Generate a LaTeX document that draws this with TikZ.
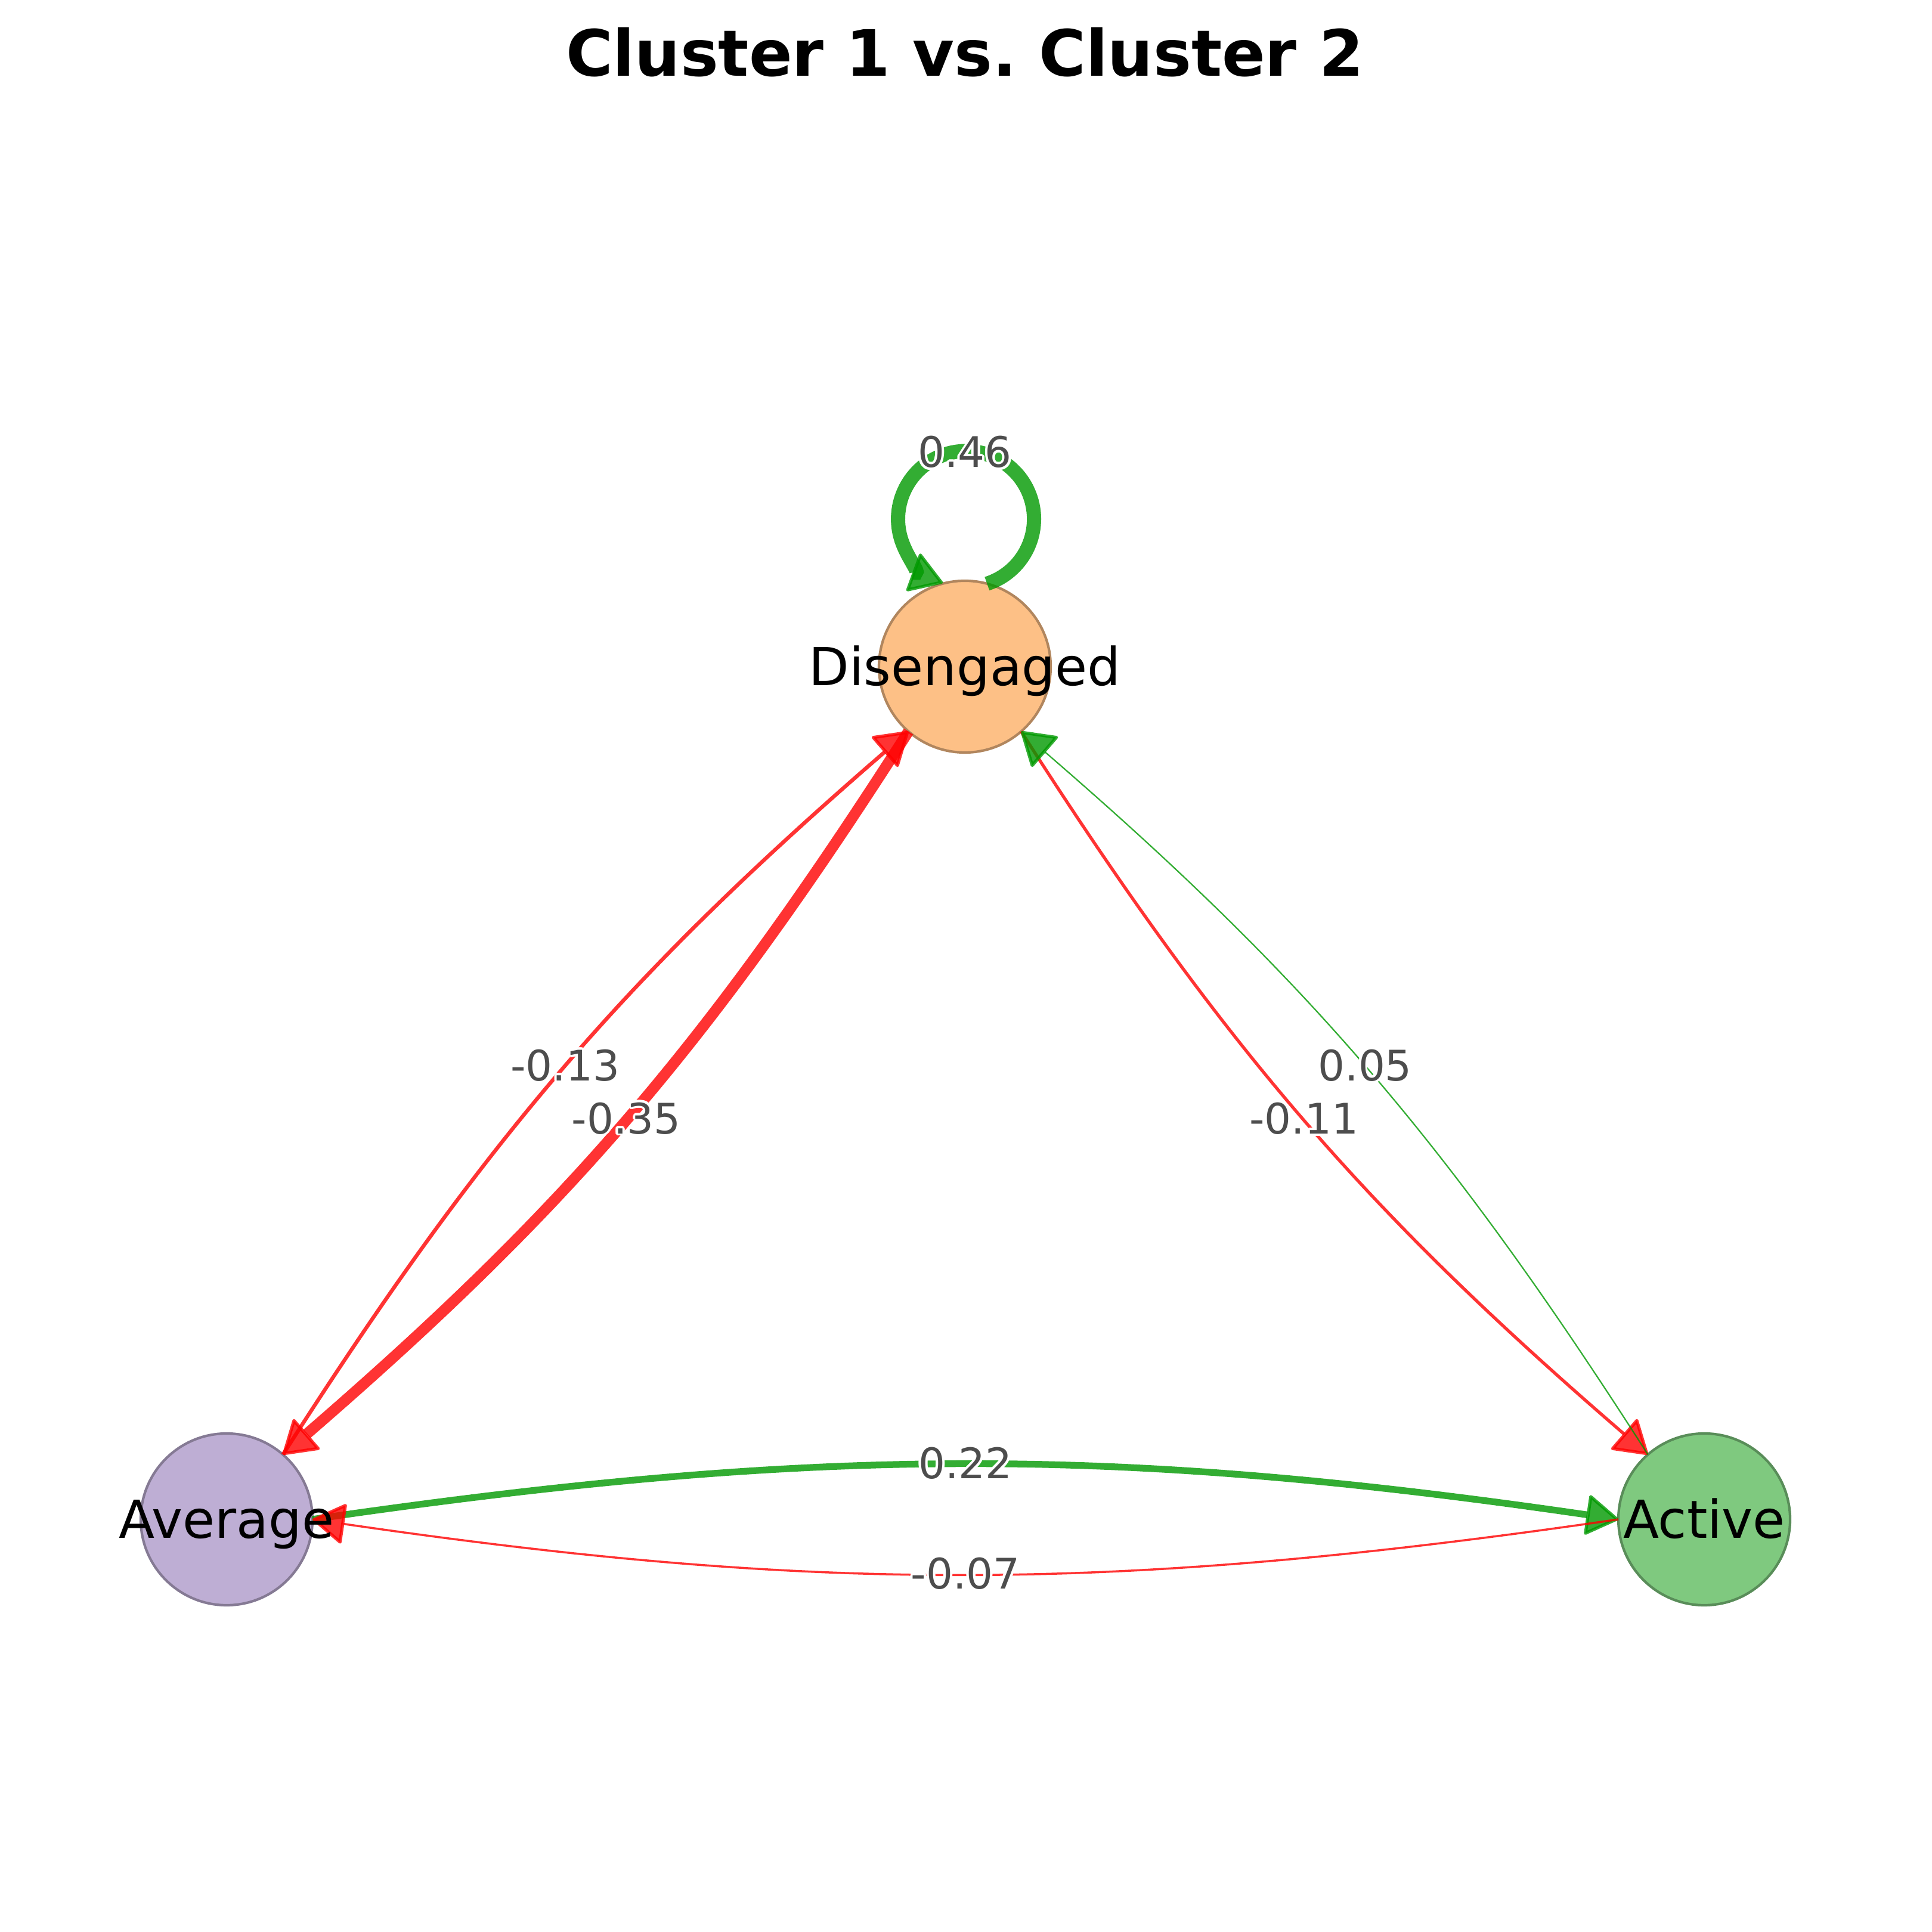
\documentclass[tikz,border=0pt]{standalone}
\usepackage{fontspec}
\setmainfont{DejaVu Sans}
\usepackage{contour}
\contourlength{1.1pt}
\usetikzlibrary{arrows.meta,calc}
\definecolor{dfill}{HTML}{FDC086}
\definecolor{afill}{HTML}{BEAED4}
\definecolor{cfill}{HTML}{7FC97F}
\definecolor{ered}{RGB}{255,0,0}
\definecolor{egreen}{RGB}{0,153,0}
\definecolor{lblgray}{RGB}{77,77,77}
\begin{document}
\begin{tikzpicture}[
  statenode/.style={circle, minimum size=2.88cm, inner sep=0pt, outer sep=0pt, line width=1.2pt},
  nodetext/.style={font=\fontsize{25}{30}\selectfont, text=black, inner sep=0pt, text height=18.2pt, text depth=0pt},
  elabel/.style={font=\fontsize{20.1}{24}\selectfont, text=lblgray, inner sep=0pt},
  arrowhd/.style={-{Triangle[length=16pt,width=20pt,line width=1.5pt,round]}},
  redge/.style={draw=ered, opacity=0.8, arrowhd},
  gedge/.style={draw=egreen, opacity=0.8, arrowhd},
]
\useasboundingbox[fill=white] (0,0) rectangle (32.4,32.4);

% nodes
\node[statenode, fill=dfill, draw=dfill!70!black] (D) at (16.18,21.22) {};
\node[statenode, fill=afill, draw=afill!70!black] (A) at (3.80,6.92) {};
\node[statenode, fill=cfill, draw=cfill!70!black] (C) at (28.58,6.92) {};

% edges
\draw[gedge, line width=6.8pt] (D.75) arc[start angle=-72, end angle=250, radius=1.14cm];
\draw[redge, line width=1.8pt] (A.49) to[bend left=8.3] coordinate[pos=0.5] (m13) (D.229);
\draw[redge, line width=5.2pt] (D.229) to[bend left=8.3] coordinate[pos=0.5] (m35) (A.49);
\draw[redge, line width=1.5pt] (D.311) to[bend right=8.3] coordinate[pos=0.5] (m11) (C.131);
\draw[gedge, line width=0.65pt] (C.131) to[bend right=8.3] coordinate[pos=0.5] (m05) (D.311);
\draw[gedge, line width=3.2pt] (A.0) to[bend left=8.3] coordinate[pos=0.5] (m22) (C.180);
\draw[redge, line width=1.0pt] (C.180) to[bend left=8.3] coordinate[pos=0.5] (m07) (A.0);

% node labels
\node[nodetext] (Dl) at (D) {Disengaged};
\node[nodetext] (Al) at (A) {Average};
\node[nodetext] (Cl) at (C) {Active};

% edge labels
\node[elabel] (l46) at ([yshift=3.58cm]D.center) {\contour{white}{0.46}};
\node[elabel] (l13) at (m13) {\contour{white}{-0.13}};
\node[elabel] (l35) at (m35) {\contour{white}{-0.35}};
\node[elabel] (l11) at (m11) {\contour{white}{-0.11}};
\node[elabel] (l05) at (m05) {\contour{white}{0.05}};
\node[elabel] (l22) at (m22) {\contour{white}{0.22}};
\node[elabel] (l07) at (m07) {\contour{white}{-0.07}};

% title
\node[font=\fontsize{30.5}{36}\selectfont\bfseries, anchor=base] (title) at (16.18,31.12) {Cluster 1 vs.\ Cluster 2};
\end{tikzpicture}
\end{document}
